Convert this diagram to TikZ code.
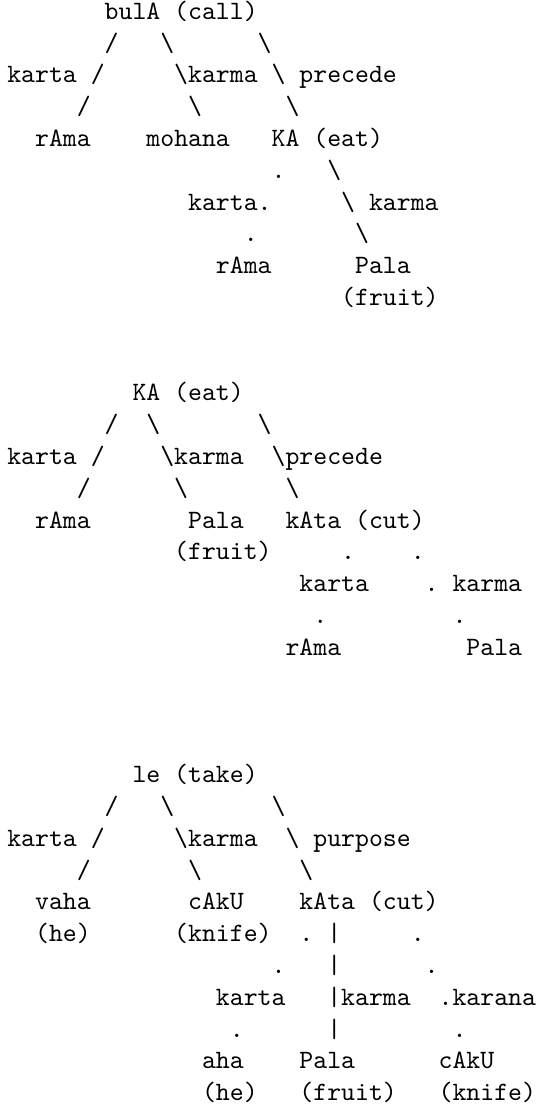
\documentclass[tikz,border=0pt]{standalone}
\usepackage{tikz}
\newcommand{\bks}{\textbackslash}
\begin{document}
\begin{tikzpicture}
        [x=5.25pt,y=-12pt,
          every node/.style={font=\ttfamily\frenchspacing,anchor=base west,inner sep=0pt,outer sep=0pt}]
        \path[fill=white] (-2.75pt,7.3pt) rectangle (200.65pt,-412.3pt);
        \useasboundingbox (-2.75pt,7.3pt) rectangle (200.65pt,-412.3pt);
        % first tree
        \node (bula) at (7,0) {bulA (call)};
        \node (kartaa) at (0,2) {karta};
        \node (karmaa) at (13,2) {karma};
        \node (precede) at (21,2) {precede};
        \node (ramaa) at (2,4) {rAma};
        \node (mohana) at (10,4) {mohana};
        \node (kaa) at (19,4) {KA (eat)};
        \node (kartab) at (13,6) {karta};
        \node (karmab) at (26,6) {karma};
        \node (ramab) at (15,8) {rAma};
        \node (palaa) at (25,8) {Pala};
        \node (fruita) at (24,9) {(fruit)};
        % second tree
        \node (kac) at (9,12) {KA (eat)};
        \node (kartac) at (0,14) {karta};
        \node (karmac) at (12,14) {karma};
        \node (precedec) at (20,14) {precede};
        \node (ramac) at (2,16) {rAma};
        \node (palac) at (13,16) {Pala};
        \node (katad) at (20,16) {kAta (cut)};
        \node (fruitc) at (12,17) {(fruit)};
        \node (kartad) at (21,18) {karta};
        \node (karmad) at (32,18) {karma};
        \node (ramad) at (20,20) {rAma};
        \node (palad) at (33,20) {Pala};
        % third tree
        \node (le) at (9,24) {le (take)};
        \node (kartae) at (0,26) {karta};
        \node (karmae) at (13,26) {karma};
        \node (purpose) at (22,26) {purpose};
        \node (vaha) at (2,28) {vaha};
        \node (caku) at (13,28) {cAkU};
        \node (katae) at (21,28) {kAta (cut)};
        \node (he) at (2,29) {(he)};
        \node (knife) at (12,29) {(knife)};
        \node (kartaf) at (15,31) {karta};
        \node (karmaf) at (24,31) {karma};
        \node (karana) at (32,31) {karana};
        \node (aha) at (14,33) {aha};
        \node (palaf) at (21,33) {Pala};
        \node (cakuf) at (31,33) {cAkU};
        \node (hef) at (14,34) {(he)};
        \node (fruitf) at (21,34) {(fruit)};
        \node (knifef) at (31,34) {(knife)};
        % links
        \foreach \c/\r in {7/1,6/2,5/3,7/13,6/14,5/15,7/25,6/26,5/27}
        \node (fs-\r-\c) at (\c,\r) {/};
        \foreach \c/\r in {11/1,18/1,12/2,19/2,13/3,20/3,23/5,24/6,25/7,
          10/13,18/13,11/14,19/14,12/15,20/15,
          11/25,19/25,12/26,20/26,13/27,21/27}
        \node (bs-\r-\c) at (\c,\r) {\bks};
        \foreach \c/\r in {19/5,18/6,17/7,24/17,29/17,30/18,22/19,32/19,
          21/29,29/29,19/30,30/30,31/31,16/32,32/32}
        \node (dt-\r-\c) at (\c,\r) {.};
        \foreach \r in {29,...,32}
        \node (vb-\r) at (23,\r) {|};
      \end{tikzpicture}
\end{document}
